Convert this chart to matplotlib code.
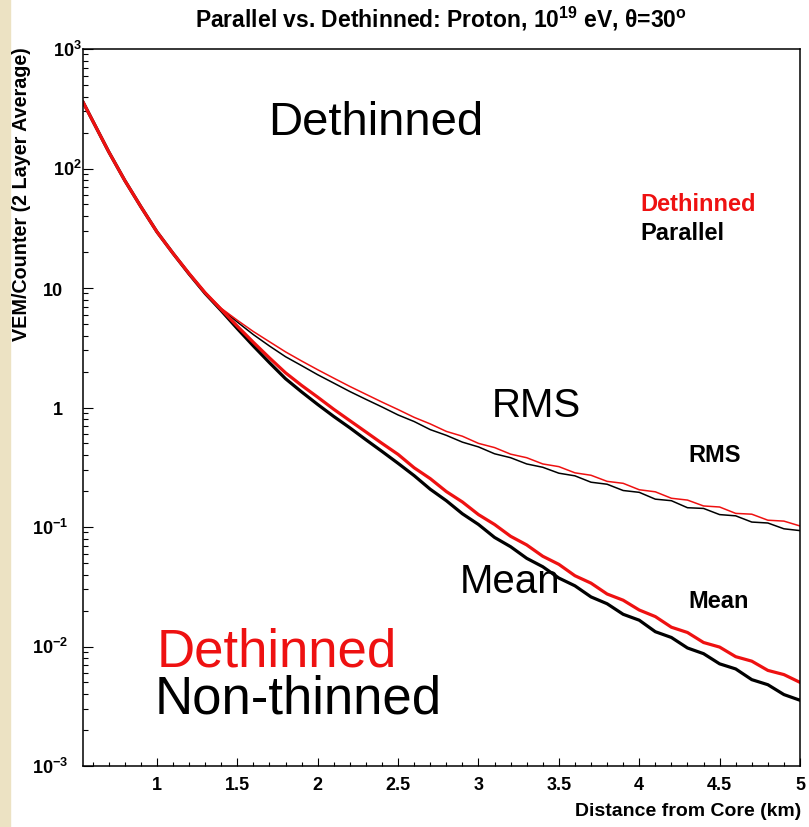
import matplotlib
matplotlib.use('Agg')
import matplotlib.pyplot as plt
from matplotlib.ticker import FixedLocator, FixedFormatter, LogLocator, MultipleLocator, FormatStrFormatter, NullFormatter
from matplotlib.transforms import ScaledTranslation
from matplotlib.patches import Rectangle

plt.rcParams['font.family'] = ['Liberation Sans', 'DejaVu Sans']
plt.rcParams['mathtext.fontset'] = 'custom'
plt.rcParams['mathtext.rm'] = 'Liberation Sans:bold'
plt.rcParams['mathtext.it'] = 'Liberation Sans:bold'
plt.rcParams['mathtext.bf'] = 'Liberation Sans:bold'

# distance from core (km), shared by all four curves
dist_km = [0.54, 0.6, 0.7, 0.8, 0.9, 1.0, 1.1, 1.2, 1.3,
           1.4, 1.5, 1.6, 1.7, 1.8, 1.9, 2.0, 2.1, 2.2, 2.3, 2.4,
           2.5, 2.6, 2.7, 2.8, 2.9, 3.0, 3.1, 3.2, 3.3, 3.4, 3.5, 3.6, 3.7,
           3.8, 3.9, 4.0, 4.1, 4.2, 4.3, 4.4, 4.5, 4.6, 4.7, 4.8, 4.9, 5.0]

# VEM/counter
mean_dethinned = [360, 251, 138, 79.4, 47.9, 29.5, 19.5, 13.2, 9.12,
                  6.61, 4.79, 3.51, 2.60, 1.95, 1.53, 1.22, 0.966, 0.776, 0.624, 0.501,
                  0.405, 0.313, 0.254, 0.198, 0.162, 0.127, 0.105, 0.0836, 0.0708,
                  0.0569, 0.0487, 0.0391, 0.0339, 0.0275, 0.0244, 0.0202, 0.0178,
                  0.0145, 0.0131, 0.0108, 0.00989, 0.00822, 0.00754, 0.00631, 0.00582, 0.00501]
mean_parallel = [360, 251, 138, 79.4, 47.9, 29.5, 19.5, 13.1, 9.0,
                 6.46, 4.57, 3.27, 2.37, 1.74, 1.35, 1.06, 0.841, 0.676, 0.537, 0.429,
                 0.341, 0.269, 0.207, 0.166, 0.129, 0.105, 0.0818, 0.0684, 0.0547,
                 0.0465, 0.0374, 0.0322, 0.0260, 0.0228, 0.0186, 0.0166, 0.0133,
                 0.0119, 0.00972, 0.00871, 0.00716, 0.00649, 0.00528, 0.00479, 0.00396, 0.00355]
rms_dethinned = [360, 251, 138, 79.4, 47.9, 29.5, 19.6, 13.3, 9.2,
                 6.76, 5.37, 4.32, 3.55, 2.92, 2.45, 2.07, 1.76, 1.50, 1.29, 1.11,
                 0.961, 0.827, 0.729, 0.631, 0.575, 0.501, 0.462, 0.407, 0.380,
                 0.337, 0.320, 0.284, 0.271, 0.241, 0.232, 0.205, 0.197,
                 0.174, 0.168, 0.150, 0.147, 0.130, 0.128, 0.114, 0.112, 0.102]
rms_parallel = [360, 251, 138, 79.4, 47.9, 29.5, 19.5, 13.2, 9.1,
                6.68, 5.19, 4.07, 3.27, 2.66, 2.24, 1.88, 1.60, 1.36, 1.17, 1.01,
                0.866, 0.763, 0.653, 0.585, 0.513, 0.468, 0.410, 0.380, 0.337,
                0.316, 0.282, 0.268, 0.237, 0.228, 0.202, 0.195, 0.171,
                0.166, 0.145, 0.143, 0.127, 0.124, 0.110, 0.108, 0.0966, 0.0933]

y_ticks = [1e-3, 1e-2, 1e-1, 1, 10, 1e2, 1e3]
y_tick_labels = ['$10^{-3}$', '$10^{-2}$', '$10^{-1}$', '1', '10', '$10^{2}$', '$10^{3}$']

W, H = 809, 828
fig = plt.figure(figsize=(W / 100, H / 100), dpi=100)
fig.patch.set_facecolor('white')
# parchment strip on the left edge
fig.patches.append(Rectangle((0, 0), 10 / W, 1, transform=fig.transFigure,
                             color='#ece2c3', zorder=0))

ax = fig.add_axes([83 / W, 1 - 767 / H, 717 / W, 717 / H])
ax.plot(dist_km, rms_parallel, color='black', lw=1.1)
ax.plot(dist_km, mean_parallel, color='black', lw=2.3)
ax.plot(dist_km, rms_dethinned, color='#ee1111', lw=1.1)
ax.plot(dist_km, mean_dethinned, color='#ee1111', lw=2.3)

ax.set_yscale('log')
ax.set_xlim(0.54, 5.0)
ax.set_ylim(1e-3, 1e3)
for s in ax.spines.values():
    s.set_linewidth(1.1)

ax.xaxis.set_major_locator(MultipleLocator(0.5))
ax.xaxis.set_minor_locator(MultipleLocator(0.1))
ax.xaxis.set_major_formatter(FormatStrFormatter('%g'))
ax.yaxis.set_major_locator(FixedLocator(y_ticks))
ax.yaxis.set_major_formatter(FixedFormatter(y_tick_labels))
ax.yaxis.set_minor_locator(LogLocator(base=10, subs=range(2, 10), numticks=20))
ax.yaxis.set_minor_formatter(NullFormatter())

ax.tick_params(axis='both', which='both', direction='in', top=False, right=False, width=0.8)
ax.tick_params(axis='x', which='major', length=6, pad=7, labelsize=13)
ax.tick_params(axis='x', which='minor', length=3)
ax.tick_params(axis='y', which='major', length=7.5, pad=14.5, labelsize=13)
ax.tick_params(axis='y', which='minor', length=3.6)
for lab in ax.get_xticklabels():
    lab.set_fontweight('bold')
for lab in ax.get_yticklabels():
    lab.set_fontweight('bold')
    txt = lab.get_text()
    if '^' in txt:
        lab.set_va('baseline')
        dx = 5 if '-' in txt else 19
        lab.set_transform(lab.get_transform() + ScaledTranslation(dx / 100, -7 / 100, fig.dpi_scale_trans))


def fx(px):
    return px / W


def fy(py):
    return 1 - py / H


fig.text(fx(441), fy(19), r'Parallel vs. Dethinned: Proton, 10$^{19}$ eV, θ=30$^{o}$',
         ha='center', va='center', fontsize=16.5, fontweight='bold')
fig.text(fx(22), fy(47), 'VEM/Counter (2 Layer Average)', rotation=90,
         ha='center', va='top', fontsize=14.2, fontweight='bold')
fig.text(fx(801), fy(812), 'Distance from Core (km)', ha='right', va='center',
         fontsize=14, fontweight='bold')

# big annotations
fig.text(fx(268), fy(135), 'Dethinned', fontsize=34, color='black', va='baseline')
fig.text(fx(492), fy(417), 'RMS', fontsize=29, color='black', va='baseline')
fig.text(fx(460), fy(593), 'Mean', fontsize=29, color='black', va='baseline')
fig.text(fx(157), fy(667), 'Dethinned', fontsize=38, color='#ee1111', va='baseline')
fig.text(fx(155), fy(714), 'Non-thinned', fontsize=38, color='black', va='baseline')

# small legend-like labels
fig.text(fx(640), fy(211), 'Dethinned', fontsize=17, fontweight='bold', color='#ee1111', va='baseline')
fig.text(fx(640), fy(240), 'Parallel', fontsize=17, fontweight='bold', color='black', va='baseline')
fig.text(fx(688), fy(462), 'RMS', fontsize=17, fontweight='bold', color='black', va='baseline')
fig.text(fx(688), fy(608), 'Mean', fontsize=17, fontweight='bold', color='black', va='baseline')

fig.savefig('out.png', dpi=100)
